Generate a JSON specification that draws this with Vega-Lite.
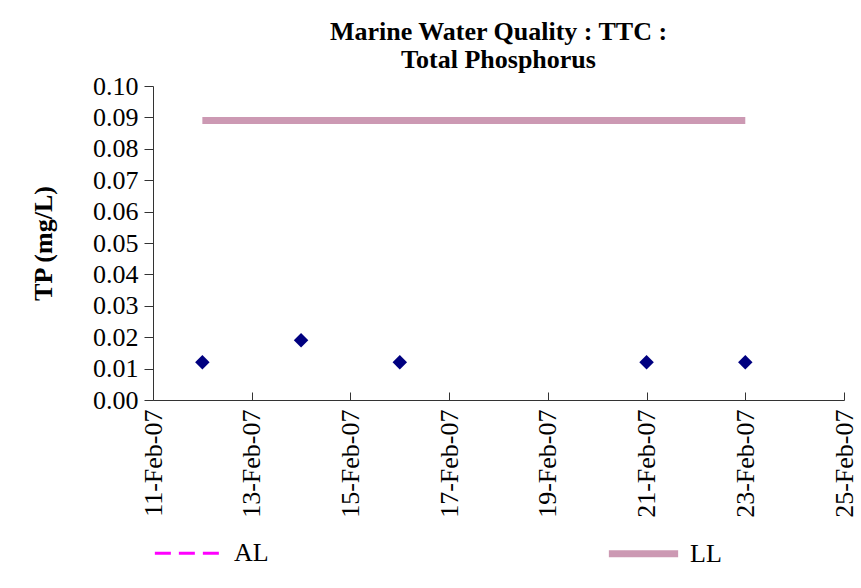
{
  "$schema": "https://vega.github.io/schema/vega-lite/v6.json",
  "width": 691,
  "height": 314,
  "padding": {"left": 30, "top": 19, "right": 15, "bottom": 5},
  "background": "white",
  "title": {
    "text": ["Marine Water Quality : TTC :", "Total Phosphorus"],
    "font": "'Times New Roman', 'Liberation Serif', 'DejaVu Serif', serif",
    "fontSize": 26,
    "fontWeight": "bold",
    "color": "black",
    "lineHeight": 28,
    "anchor": "middle",
    "offset": 0
  },
  "datasets": {
    "tp": [
      {"date": "Feb 12, 2007", "value": 0.012},
      {"date": "Feb 14, 2007", "value": 0.019},
      {"date": "Feb 16, 2007", "value": 0.012},
      {"date": "Feb 21, 2007", "value": 0.012},
      {"date": "Feb 23, 2007", "value": 0.012}
    ],
    "limits": [
      {"date": "Feb 12, 2007", "value": 0.089, "series": "LL"},
      {"date": "Feb 23, 2007", "value": 0.089, "series": "LL"}
    ]
  },
  "config": {
    "view": {"stroke": null},
    "font": "'Times New Roman', 'Liberation Serif', 'DejaVu Serif', serif",
    "axis": {
      "labelFont": "'Times New Roman', 'Liberation Serif', 'DejaVu Serif', serif",
      "labelFontSize": 26,
      "labelColor": "black",
      "titleFont": "'Times New Roman', 'Liberation Serif', 'DejaVu Serif', serif",
      "titleColor": "black",
      "domainColor": "#333333",
      "tickColor": "#333333",
      "grid": false
    },
    "legend": {
      "labelFont": "'Times New Roman', 'Liberation Serif', 'DejaVu Serif', serif",
      "labelFontSize": 26,
      "labelColor": "black"
    }
  },
  "encoding": {
    "x": {
      "field": "date",
      "type": "temporal",
      "scale": {"domain": [{"year": 2007, "month": 2, "date": 11}, {"year": 2007, "month": 2, "date": 25}]},
      "axis": {
        "title": null,
        "format": "%d-%b-%y",
        "labelAngle": -90,
        "values": [
          {"year": 2007, "month": 2, "date": 11},
          {"year": 2007, "month": 2, "date": 13},
          {"year": 2007, "month": 2, "date": 15},
          {"year": 2007, "month": 2, "date": 17},
          {"year": 2007, "month": 2, "date": 19},
          {"year": 2007, "month": 2, "date": 21},
          {"year": 2007, "month": 2, "date": 23},
          {"year": 2007, "month": 2, "date": 25}
        ],
        "tickSize": -8,
        "labelPadding": 17,
        "labelFlush": false,
        "labelOverlap": false
      }
    },
    "y": {
      "field": "value",
      "type": "quantitative",
      "scale": {"domain": [0, 0.1]},
      "axis": {
        "title": "TP (mg/L)",
        "titleFontSize": 26,
        "titleFontWeight": "bold",
        "titlePadding": 36,
        "format": ".2f",
        "values": [0, 0.01, 0.02, 0.03, 0.04, 0.05, 0.06, 0.07, 0.08, 0.09, 0.1],
        "labelOverlap": false,
        "labelFlush": false,
        "tickSize": 9,
        "labelPadding": 6
      }
    }
  },
  "layer": [
    {
      "data": {"name": "limits"},
      "mark": {"type": "line"},
      "encoding": {
        "color": {
          "field": "series",
          "type": "nominal",
          "scale": {"domain": ["AL", "LL"], "range": ["#FF00FF", "#CC99B3"]},
          "legend": {
            "title": null,
            "orient": "bottom",
            "direction": "horizontal",
            "symbolType": "stroke",
            "symbolSize": 4800,
            "columnPadding": 325,
            "offset": -3,
            "labelOffset": 8
          }
        },
        "strokeDash": {
          "field": "series",
          "type": "nominal",
          "scale": {"domain": ["AL", "LL"], "range": [[16, 8], [1, 0]]}
        },
        "strokeWidth": {
          "field": "series",
          "type": "nominal",
          "scale": {"domain": ["AL", "LL"], "range": [3, 7]}
        }
      }
    },
    {
      "data": {"name": "tp"},
      "mark": {"type": "point", "shape": "diamond", "filled": true, "color": "#000080", "size": 210, "opacity": 1},
      "encoding": {}
    }
  ]
}
